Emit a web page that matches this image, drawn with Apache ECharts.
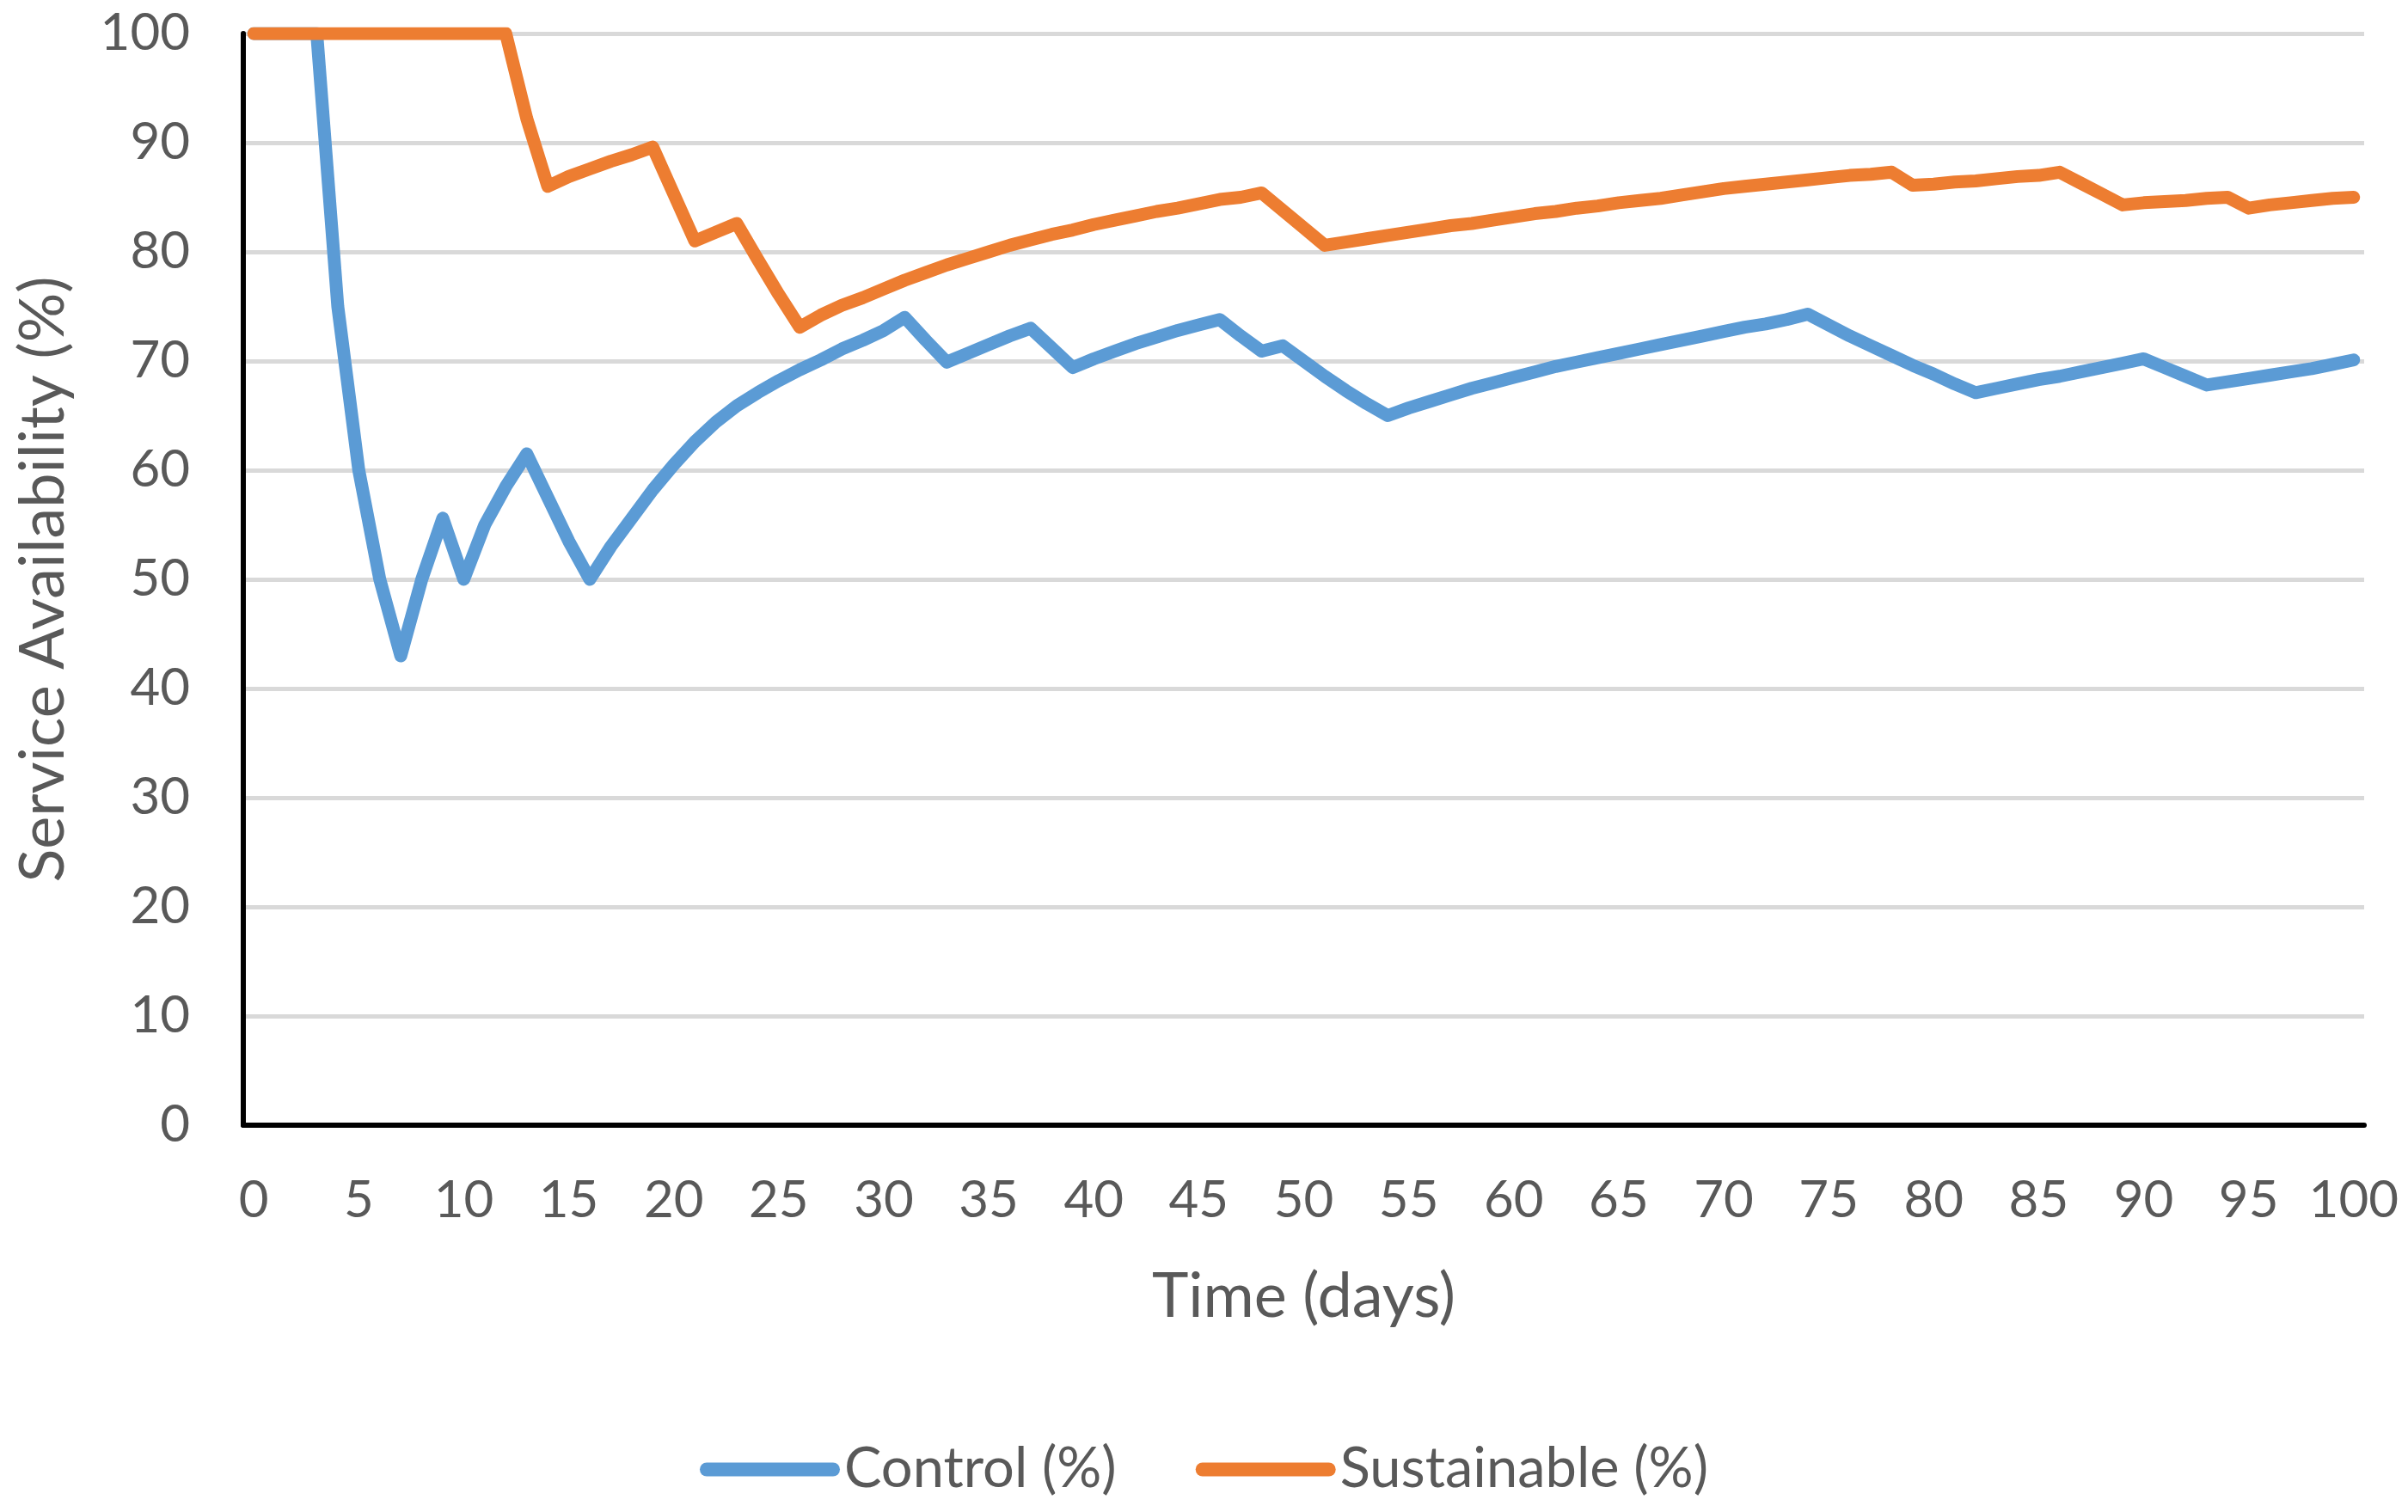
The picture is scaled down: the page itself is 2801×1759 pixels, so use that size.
<!DOCTYPE html>
<html>
<head>
<meta charset="utf-8">
<title>Service Availability</title>
<script src="https://cdn.jsdelivr.net/npm/echarts@6/dist/echarts.min.js"></script>
<style>
  html, body { margin: 0; padding: 0; background: #fff; }
  #chart { width: 2801px; height: 1759px; }
</style>
</head>
<body>
<div id="chart"></div>
<script>
// days 0..100 on the category axis
var days = [];
for (var d = 0; d <= 100; d++) days.push(String(d));

// Control (%)
var control = [
  100, 100, 100, 100, 75, 60, 50, 43, 50, 55.6,
  50, 55, 58.5, 61.5, 57.5, 53.5, 50, 53.0, 55.6, 58.2,
  60.5, 62.6, 64.4, 65.9, 67.1, 68.2, 69.2, 70.1, 71.1, 71.9,
  72.8, 74.0, 71.9, 69.9, 70.7, 71.5, 72.3, 73.0, 71.2, 69.4,
  70.2, 70.9, 71.6, 72.2, 72.8, 73.3, 73.8, 72.3, 70.9, 71.4,
  70.0, 68.6, 67.3, 66.1, 65.0, 65.7, 66.3, 66.9, 67.5, 68.0,
  68.5, 69.0, 69.5, 69.9, 70.3, 70.7, 71.1, 71.5, 71.9, 72.3,
  72.7, 73.1, 73.4, 73.8, 74.3, 73.3, 72.3, 71.4, 70.5, 69.6,
  68.8, 67.9, 67.1, 67.5, 67.9, 68.3, 68.6, 69.0, 69.4, 69.8,
  70.2, 69.4, 68.6, 67.8, 68.1, 68.4, 68.7, 69.0, 69.3, 69.7,
  70.1
];

// Sustainable (%)
var sustainable = [
  100, 100, 100, 100, 100, 100, 100, 100, 100, 100,
  100, 100, 100, 92.2, 86, 86.9, 87.6, 88.3, 88.9, 89.6,
  85.3, 81, 81.8, 82.6, 79.3, 76.1, 73.1, 74.2, 75.1, 75.8,
  76.6, 77.4, 78.1, 78.8, 79.4, 80.0, 80.6, 81.1, 81.6, 82.0,
  82.5, 82.9, 83.3, 83.7, 84.0, 84.4, 84.8, 85.0, 85.4, 83.8,
  82.2, 80.6, 80.9, 81.2, 81.5, 81.8, 82.1, 82.4, 82.6, 82.9,
  83.2, 83.5, 83.7, 84.0, 84.2, 84.5, 84.7, 84.9, 85.2, 85.5,
  85.8, 86.0, 86.2, 86.4, 86.6, 86.8, 87.0, 87.1, 87.3, 86.1,
  86.2, 86.4, 86.5, 86.7, 86.9, 87.0, 87.3, 86.3, 85.3, 84.3,
  84.5, 84.6, 84.7, 84.9, 85.0, 84.0, 84.3, 84.5, 84.7, 84.9,
  85.0
];

var seriesNames = ["Control (%)", "Sustainable (%)"];
var colors = ["#5B9BD5", "#ED7D31"];

var font = "Lato, 'Open Sans', sans-serif";
var grey = "#595959";

var chart = echarts.init(document.getElementById("chart"), null, { renderer: "canvas" });

// rounded bar used as legend swatch
var capsule = "path://M8,0 H155 A8,8 0 0 1 155,16 H8 A8,8 0 0 1 8,0 Z";

chart.setOption({
  animation: false,
  backgroundColor: "#fff",
  color: colors,
  textStyle: { fontFamily: font, color: grey },
  grid: { left: 283, right: 51, top: 39, bottom: 450, containLabel: false },
  legend: {
    bottom: 12,
    left: "center",
    itemWidth: 163,
    itemHeight: 17,
    itemGap: 92,
    textStyle: { fontSize: 65, color: grey, fontFamily: font },
    data: [
      { name: seriesNames[0], icon: capsule, itemStyle: { color: colors[0], borderWidth: 0 } },
      { name: seriesNames[1], icon: capsule, itemStyle: { color: colors[1], borderWidth: 0 } }
    ]
  },
  xAxis: {
    type: "category",
    data: days,
    boundaryGap: true,
    name: "Time (days)",
    nameLocation: "middle",
    nameGap: 164,
    nameTextStyle: { fontSize: 72, color: grey, fontFamily: font },
    axisLine: { lineStyle: { color: "#000", width: 6 } },
    axisTick: { show: false },
    axisLabel: { interval: 4, fontSize: 60, color: grey, margin: 58 },
    splitLine: { show: false }
  },
  yAxis: {
    type: "value",
    min: 0,
    max: 100,
    interval: 10,
    name: "Service Availability (%)",
    nameLocation: "middle",
    nameGap: 196,
    nameRotate: 90,
    nameTextStyle: { fontSize: 72, color: grey, fontFamily: font },
    axisLine: { show: true, lineStyle: { color: "#000", width: 6 } },
    axisTick: { show: false },
    axisLabel: { fontSize: 60, color: grey, margin: 62 },
    splitLine: { lineStyle: { color: "#D9D9D9", width: 5 } }
  },
  series: [
    {
      name: seriesNames[0],
      type: "line",
      data: control,
      symbol: "none",
      clip: true,
      itemStyle: { color: colors[0] },
      lineStyle: { width: 15, color: colors[0], cap: "round", join: "round" }
    },
    {
      name: seriesNames[1],
      type: "line",
      data: sustainable,
      symbol: "none",
      clip: true,
      itemStyle: { color: colors[1] },
      lineStyle: { width: 15, color: colors[1], cap: "round", join: "round" }
    }
  ]
});
</script>
</body>
</html>
